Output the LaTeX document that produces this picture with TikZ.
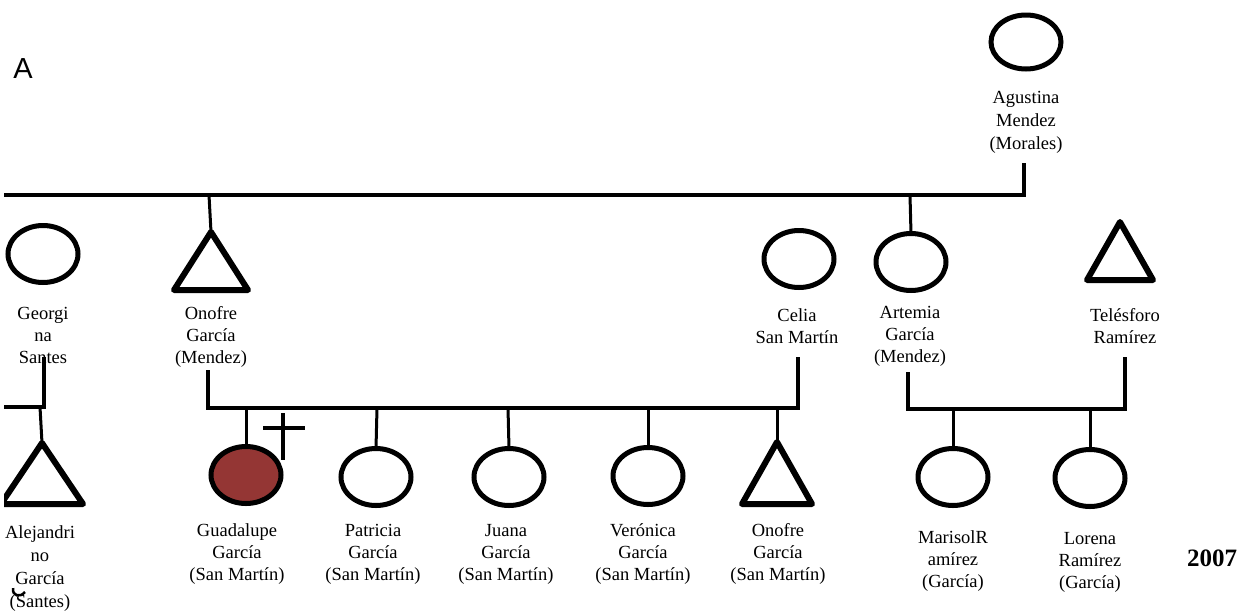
\documentclass[tikz,border=0pt]{standalone}
\usepackage{fontspec}
\setmainfont{Liberation Serif}
\newfontfamily\labelsans{Liberation Sans}
\usetikzlibrary{shapes.geometric}
\definecolor{deadfill}{HTML}{943634}
\begin{document}
\begin{tikzpicture}[x=1pt,y=-1pt,
  fem/.style={draw, ellipse, line width=5pt, minimum width=70pt, minimum height=57pt, inner sep=0pt, outer sep=0pt},
  tri/.style={draw, line width=6pt, line join=round},
  link/.style={draw, line width=3pt},
  bar/.style={draw, line width=4.5pt},
  lbl/.style={align=center, font=\fontsize{18.5}{22}\selectfont, inner sep=0pt, anchor=base},
  lblb/.style={align=center, font=\fontsize{18.5}{23}\selectfont, inner sep=0pt, anchor=base}]
\useasboundingbox (0,0) rectangle (1243,614);
\clip (4,0) rectangle (1243,614);

% label A and year
\node[font=\labelsans\fontsize{29}{32}\selectfont, inner sep=0pt, anchor=base] (alabel) at (23,78) {A};
\node[font=\bfseries\fontsize{25}{28}\selectfont, inner sep=0pt] (year) at (1212,558) {2007};

% generation 1
\node[fem, minimum height=54pt] (agustina) at (1026,42) {};
\node[lblb] (tagustina) at (1026,149) {Agustina\\Mendez\\(Morales)};
\coordinate (agdrop) at (1024,163);
\coordinate (mainR) at (1024,195);
\coordinate (mainL) at (0,195);
\draw[bar] (agdrop) -- (mainR) -- (mainL);

% generation 2
\node[fem] (georgina) at (43,254) {};
\node[lbl] (tgeorgina) at (43,363) {Georgi\\na\\Santes};

\coordinate (onofre) at (211,232);
\draw[tri] (onofre) -- ++(37,58) -- ++(-74,0) -- cycle;
\node[lbl] (tonofre) at (211,363) {Onofre\\García\\(Mendez)};
\coordinate (ondrop) at (209,195);
\draw[link] (ondrop) -- (onofre);

\node[fem] (celia) at (799,259) {};
\node[lbl] (tcelia) at (797,343) {Celia\\San Martín};

\node[fem] (artemia) at (911,262) {};
\node[lbl] (tartemia) at (910,362) {Artemia\\García\\(Mendez)};
\coordinate (ardrop) at (910,195);
\draw[link] (ardrop) -- (artemia.north);

\coordinate (telesforo) at (1120,222);
\draw[tri] (telesforo) -- ++(33,58) -- ++(-66,0) -- cycle;
\node[lbl] (ttelesforo) at (1125,343) {Telésforo\\Ramírez};

% Georgina's line
\coordinate (geoA) at (44,357);
\coordinate (geoB) at (44,407);
\coordinate (geoC) at (0,407);
\draw[bar] (geoA) -- (geoB) -- (geoC);
\coordinate (alejandrino) at (42,443);
\coordinate (aledrop) at (40,407);
\draw[link] (aledrop) -- (alejandrino);
\draw[tri] (alejandrino) -- ++(41,61) -- ++(-82,0) -- cycle;
\node[lblb] (talejandrino) at (40,607) {Alejandri\\no\\García\\(Santes)};
\draw[line width=2.5pt] (13,588) .. controls (12,596) and (20,598) .. (25,592);

% Onofre + Celia
\coordinate (ocL) at (208,370);
\coordinate (ocLb) at (208,408);
\coordinate (ocRb) at (798,408);
\coordinate (ocR) at (798,357);
\draw[bar] (ocL) -- (ocLb) -- (ocRb) -- (ocR);

\node[fem, fill=deadfill] (guadalupe) at (246,475) {};
\draw[link] (246,408) -- (guadalupe.north);
\node[lbl] (tguadalupe) at (237,580) {Guadalupe\\García\\(San Martín)};
\coordinate (crossT) at (283,413);
\coordinate (crossB) at (283,460);
\coordinate (crossL) at (263,428);
\coordinate (crossR) at (305,428);
\draw[bar, line width=4pt] (crossT) -- (crossB);
\draw[bar, line width=4pt] (crossL) -- (crossR);

\node[fem] (patricia) at (376,477) {};
\draw[link] (377,408) -- (patricia.north);
\node[lbl] (tpatricia) at (373,580) {Patricia\\García\\(San Martín)};

\node[fem] (juana) at (509,477) {};
\draw[link] (508,408) -- (juana.north);
\node[lbl] (tjuana) at (506,580) {Juana\\García\\(San Martín)};

\node[fem] (veronica) at (648,476) {};
\draw[link] (648,408) -- (veronica.north);
\node[lbl] (tveronica) at (643,580) {Verónica\\García\\(San Martín)};

\coordinate (onofrejr) at (777,442);
\draw[link] (777,408) -- (onofrejr);
\draw[tri] (onofrejr) -- ++(35,62) -- ++(-70,0) -- cycle;
\node[lbl] (tonofrejr) at (778,580) {Onofre\\García\\(San Martín)};

% Artemia + Telesforo
\coordinate (atL) at (908,372);
\coordinate (atLb) at (908,409);
\coordinate (atRb) at (1125,409);
\coordinate (atR) at (1125,357);
\draw[bar] (atL) -- (atLb) -- (atRb) -- (atR);

\node[fem] (marisol) at (953,477) {};
\draw[link] (953,409) -- (marisol.north);
\node[lbl] (tmarisol) at (953,587) {MarisolR\\amírez\\(García)};

\node[fem] (lorena) at (1090,478) {};
\draw[link] (1090,409) -- (lorena.north);
\node[lbl] (tlorena) at (1090,588) {Lorena\\Ramírez\\(García)};
\end{tikzpicture}
\end{document}
